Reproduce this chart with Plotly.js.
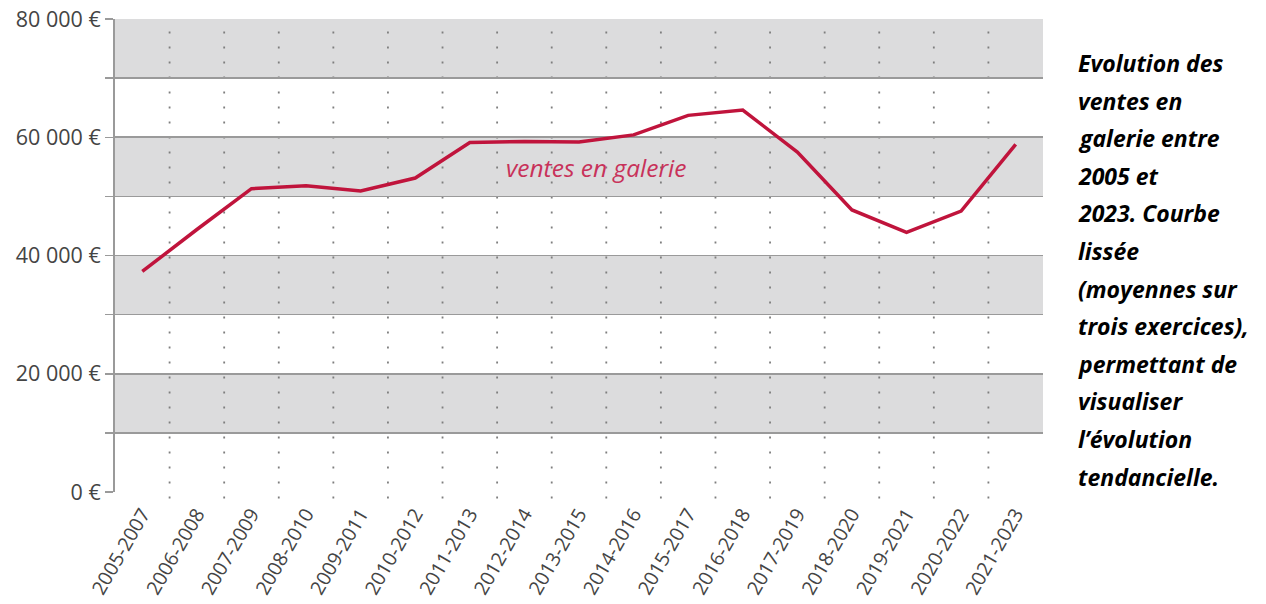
<!DOCTYPE html>
<html><head><meta charset="utf-8">
<script src="https://cdn.plot.ly/plotly-3.0.1.min.js"></script>
<style>html,body{margin:0;padding:0;background:#fff;}#chart{width:1266px;height:604px;}</style>
</head><body><div id="chart"></div>
<script>
const categories = ["2005-2007","2006-2008","2007-2009","2008-2010","2009-2011","2010-2012","2011-2013","2012-2014","2013-2015","2014-2016","2015-2017","2016-2018","2017-2019","2018-2020","2019-2021","2020-2022","2021-2023"];
const ventes = [37300, 44400, 51300, 51800, 50900, 53100, 59100, 59300, 59200, 60400, 63700, 64600, 57500, 47700, 43900, 47500, 58800];
const yTickVals = [0, 10000, 20000, 30000, 40000, 50000, 60000, 70000, 80000];
const yTickText = ["0 €", "", "20 000 €", "", "40 000 €", "", "60 000 €", "", "80 000 €"];
const seriesLabel = "ventes en galerie";
const sideText = ["Evolution des","ventes en","galerie entre","2005 et","2023. Courbe","lissée","(moyennes sur","trois exercices),","permettant de","visualiser","l’évolution","tendancielle."];

const shapes = [];
// grey bands
for (let k = 0; k < 4; k++) {
  shapes.push({type:'rect', xref:'paper', yref:'y', x0:0, x1:1, y0:10000 + k*20000, y1:20000 + k*20000,
    fillcolor:'#dcdcdd', line:{width:0}, layer:'below'});
}
// dotted category separators
for (let i = 0; i < categories.length - 1; i++) {
  shapes.push({type:'line', xref:'x', yref:'paper', x0:i+0.5, x1:i+0.5, y0:-0.014, y1:1,
    line:{color:'#7e7e7e', width:1.8, dash:'2px,13px'}, layer:'below'});
}

const annotations = [{
  xref:'paper', yref:'paper', x:0.519, y:0.687, text:seriesLabel, showarrow:false,
  font:{family:'Open Sans', size:24.5, color:'#c8325a', style:'italic'}, xanchor:'center', yanchor:'middle'
}];
sideText.forEach((t, i) => {
  annotations.push({xref:'paper', yref:'paper', x:1.0355, y:(492 - (63 + i*37.6)) / 473, text:t,
    showarrow:false, xanchor:'left', yanchor:'middle', align:'left',
    font:{family:'Open Sans', size:23, color:'#000', weight:700, style:'italic'}});
});

const trace = {x:categories, y:ventes, type:'scatter', mode:'lines',
  line:{color:'#c0143c', width:3.5}, hoverinfo:'skip'};

const layout = {
  width:1266, height:604,
  margin:{l:115, r:223, t:19, b:112},
  paper_bgcolor:'#fff', plot_bgcolor:'rgba(0,0,0,0)',
  showlegend:false,
  xaxis:{type:'category', showgrid:false, zeroline:false, showline:false, ticks:'',
    tickangle:-60, ticklabelstandoff:6, tickfont:{family:'Open Sans', size:19.5, color:'#444'}, range:[-0.5, categories.length-0.5], fixedrange:true},
  yaxis:{range:[0,80000], tickvals:yTickVals, ticktext:yTickText, showgrid:true, gridcolor:'#9a9a9a', gridwidth:1.6,
    zeroline:false, showline:true, linecolor:'#9a9a9a', linewidth:2, ticks:'outside', ticklen:8, tickcolor:'#9a9a9a', tickwidth:1.5,
    tickfont:{family:'Open Sans', size:21.5, color:'#444'}, fixedrange:true},
  shapes:shapes, annotations:annotations
};
Plotly.newPlot('chart', [trace], layout, {displayModeBar:false, staticPlot:true});
</script></body></html>
